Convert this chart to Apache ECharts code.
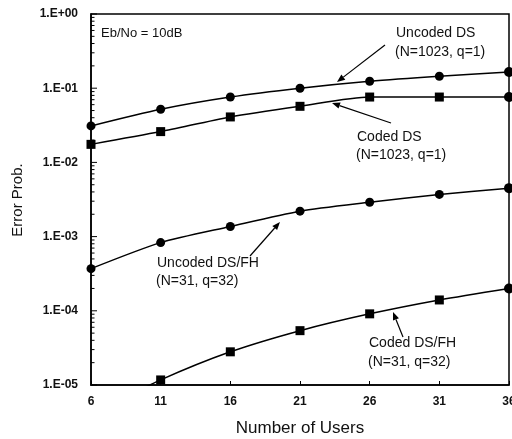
<!DOCTYPE html>
<html>
<head>
<meta charset="utf-8">
<script src="https://cdn.jsdelivr.net/npm/echarts@6/dist/echarts.min.js"></script>
<style>html,body{margin:0;padding:0;background:#fff}#c{width:512px;height:439px}</style>
</head>
<body>
<div id="c"></div>
<script>
var users = ['6', '11', '16', '21', '26', '31', '36'];
var uncodedDS = [0.031, 0.052, 0.076, 0.10, 0.124, 0.145, 0.165];
var codedDS = [0.0175, 0.026, 0.041, 0.057, 0.076, 0.076, 0.076];
var uncodedDSFH = [3.7e-4, 8.3e-4, 1.37e-3, 2.2e-3, 2.9e-3, 3.7e-3, 4.5e-3];
var codedDSFH = [4e-6, 1.17e-5, 2.8e-5, 5.4e-5, 9.1e-5, 1.4e-4, 2.0e-4];
var majorTickValues = [1e-5, 1e-4, 1e-3, 1e-2, 1e-1, 1];
var minorTickValues = [];
for (var e = -5; e < 0; e++) { for (var m = 2; m <= 9; m++) { minorTickValues.push(m * Math.pow(10, e)); } }

var FONT = '"Liberation Sans", Arial, sans-serif';
var chart = echarts.init(document.getElementById('c'), null, {renderer: 'canvas'});

function fmtY(v) {
  var e = Math.round(Math.log10(v));
  var a = Math.abs(e);
  return '1.E' + (e >= 0 ? '+' : '-') + (a < 10 ? '0' : '') + a;
}
function lastCircle(arr, sym) {
  return arr.map(function (v, i) { return i === arr.length - 1 ? {value: v, symbol: 'circle', symbolSize: 10} : {value: v, symbol: sym}; });
}
function arrow(x1, y1, x2, y2) {
  var ang = Math.atan2(y2 - y1, x2 - x1), L = 8, W = 3.2;
  var bx = x2 - L * Math.cos(ang), by = y2 - L * Math.sin(ang);
  var px = -Math.sin(ang) * W, py = Math.cos(ang) * W;
  return [
    {type: 'line', shape: {x1: x1, y1: y1, x2: bx, y2: by}, style: {stroke: '#000', lineWidth: 1.2}, z: 100},
    {type: 'polygon', shape: {points: [[x2, y2], [bx + px, by + py], [bx - px, by - py]]}, style: {fill: '#000'}, z: 100}
  ];
}
function txt(t, x, y, size) {
  return {type: 'text', x: x, y: y, z: 100, style: {text: t, font: (size || 13) + 'px ' + FONT, fill: '#111', align: 'left', verticalAlign: 'middle'}};
}

var graphics = [
  txt('Eb/No = 10dB', 101, 33, 13),
  txt('Uncoded DS', 396, 33, 14),
  txt('(N=1023, q=1)', 395, 52, 14),
  txt('Coded DS', 357, 137, 14),
  txt('(N=1023, q=1)', 356, 155, 14),
  txt('Uncoded DS/FH', 157, 263, 14),
  txt('(N=31, q=32)', 156, 281, 14),
  txt('Coded DS/FH', 369, 343, 14),
  txt('(N=31, q=32)', 368, 362, 14),
  {type: 'text', x: 300, y: 428, z: 100, style: {text: 'Number of Users', font: '17px ' + FONT, fill: '#111', align: 'center', verticalAlign: 'middle'}},
  {type: 'text', x: 18, y: 200, rotation: Math.PI / 2, z: 100, style: {text: 'Error Prob.', font: '15px ' + FONT, fill: '#111', align: 'center', verticalAlign: 'middle'}}
].concat(arrow(385, 45, 337, 82), arrow(391, 123, 332, 103), arrow(250, 256, 280, 222), arrow(403, 337, 393, 312));

function lineSeries(name, data, sym) {
  return {
    name: name, type: 'line', data: lastCircle(data, sym), symbol: sym, symbolSize: 9,
    smooth: 0.25, clip: true,
    lineStyle: {color: '#000', width: 1.5}, itemStyle: {color: '#000'}, z: 5
  };
}
function tickSeries(values, len) {
  return {
    type: 'custom', silent: true, z: 3, clip: false,
    data: values.map(function (v) { return [users[0], v]; }),
    encode: {x: 0, y: 1},
    renderItem: function (params, api) {
      var p = api.coord([api.value(0), api.value(1)]);
      return {type: 'line', shape: {x1: p[0], y1: p[1], x2: p[0] + len, y2: p[1]}, style: {stroke: '#000', lineWidth: 1}};
    }
  };
}

chart.setOption({
  animation: false,
  backgroundColor: '#fff',
  grid: {left: 91, right: 3, top: 14, bottom: 54, containLabel: false, outerBoundsMode: 'none',
         show: true, borderColor: '#000', borderWidth: 1.5},
  xAxis: {
    type: 'category', data: users, boundaryGap: false,
    axisLine: {lineStyle: {color: '#000', width: 1.5}},
    axisTick: {inside: true, length: 4, lineStyle: {color: '#000'}},
    axisLabel: {color: '#111', fontFamily: FONT, fontSize: 12, fontWeight: 'bold', margin: 11},
    splitLine: {show: false}
  },
  yAxis: {
    type: 'log', logBase: 10, min: 1e-5, max: 1,
    axisLine: {show: true, lineStyle: {color: '#000', width: 1.5}},
    axisTick: {show: false},
    axisLabel: {color: '#111', fontFamily: FONT, fontSize: 12, fontWeight: 'bold', margin: 13, formatter: fmtY},
    splitLine: {show: false}
  },
  series: [
    lineSeries('Uncoded DS', uncodedDS, 'circle'),
    lineSeries('Coded DS', codedDS, 'rect'),
    lineSeries('Uncoded DS/FH', uncodedDSFH, 'circle'),
    lineSeries('Coded DS/FH', codedDSFH, 'rect'),
    tickSeries(minorTickValues, 3.5),
    tickSeries(majorTickValues, 6)
  ],
  graphic: graphics
});
</script>
</body>
</html>
